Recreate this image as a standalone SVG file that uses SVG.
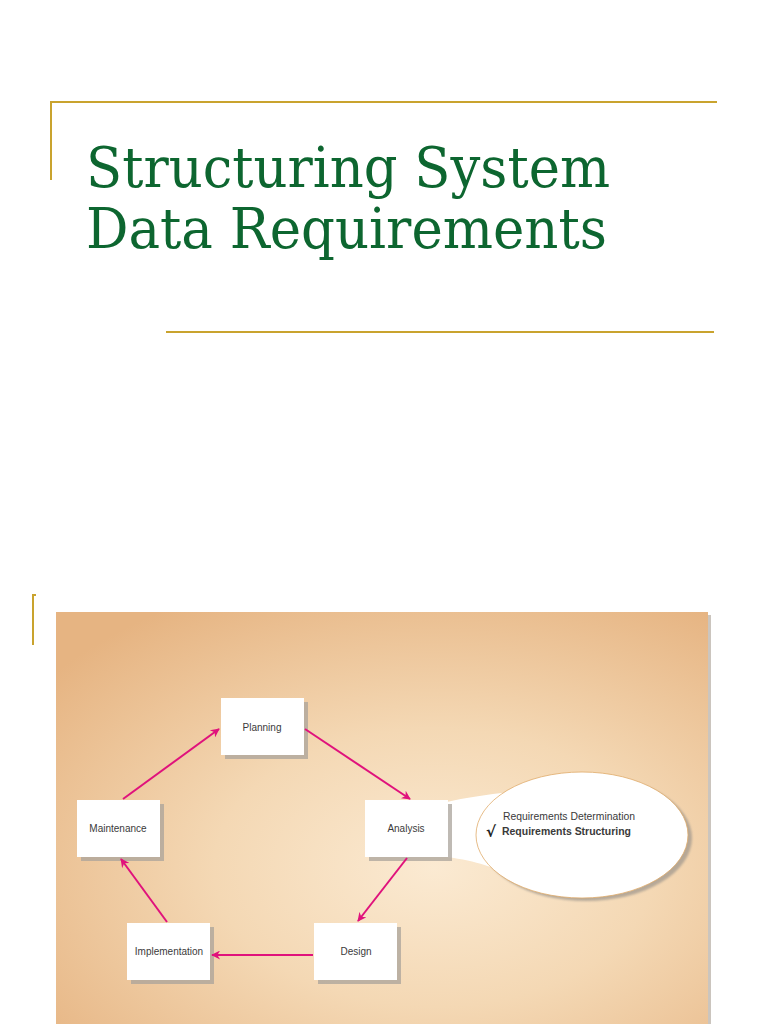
<svg xmlns="http://www.w3.org/2000/svg" width="768" height="1024" viewBox="0 0 768 1024">
<defs>
<style>
.frame{stroke:#c9a32e;stroke-width:2;fill:none}
.title{font-family:"DejaVu Serif","Liberation Serif",serif;font-size:56px;fill:#0d6630}
.box{fill:#ffffff}
.shadow{fill:#a9a39b;opacity:0.75}
.lbl{font-family:"Liberation Sans",Arial,sans-serif;font-size:10px;fill:#3a3a3a;text-anchor:middle}
.edge{stroke:#e0127c;stroke-width:2;fill:none;marker-end:url(#ah)}
.note{font-family:"Liberation Sans",Arial,sans-serif;font-size:10.5px;fill:#3a3a3a}
</style>
<marker id="ah" viewBox="0 0 10 10" refX="9" refY="5" markerWidth="10" markerHeight="9" orient="auto" markerUnits="userSpaceOnUse">
<path d="M0,0 L10,5 L0,10 L3,5 z" fill="#e0127c"/>
</marker>
<radialGradient id="bg" cx="0.58" cy="0.62" r="0.75">
<stop offset="0" stop-color="#fbead2"/>
<stop offset="0.45" stop-color="#f4d8b4"/>
<stop offset="1" stop-color="#e6b482"/>
</radialGradient>
<filter id="blur" x="-10%" y="-10%" width="130%" height="130%"><feGaussianBlur stdDeviation="1.2"/></filter>
</defs>
<rect width="768" height="1024" fill="#ffffff"/>
<g id="frame">
<path class="frame" d="M51,180 V102 H717"/>
<path class="frame" d="M166,332 H714"/>
<path class="frame" d="M33,645 V595 H36"/>
</g>
<g id="title">
<text class="title" x="86" y="187" textLength="524" lengthAdjust="spacingAndGlyphs">Structuring System</text>
<text class="title" x="86" y="248" textLength="521" lengthAdjust="spacingAndGlyphs">Data Requirements</text>
</g>
<g id="picture">
<rect x="59" y="615" width="652" height="409" fill="#b5aca2" opacity="0.7"/>
<rect x="56" y="612" width="652" height="412" fill="url(#bg)"/>
</g>
<g id="callout">
<ellipse cx="586" cy="838" rx="106" ry="63" fill="#9d958c" opacity="0.7" filter="url(#blur)"/>
<path d="M447,802 C465,798 490,794 514,792 L520,882 C505,872 485,862 447,857 Z" fill="#ffffff"/>
<ellipse cx="582" cy="835" rx="106" ry="63" fill="#ffffff" stroke="#e0ab6a" stroke-width="0.8"/>
<text class="note" x="503" y="820" textLength="132" lengthAdjust="spacingAndGlyphs">Requirements Determination</text>
<text x="486" y="837" font-family="DejaVu Sans,sans-serif" font-size="15" font-weight="bold" fill="#222">√</text>
<text class="note" x="502" y="835" font-weight="bold" fill="#222" textLength="129" lengthAdjust="spacingAndGlyphs">Requirements Structuring</text>
</g>
<g id="node-planning">
<rect class="shadow" x="225" y="702" width="83" height="57"/>
<rect class="box" x="221" y="698" width="83" height="57"/>
<text class="lbl" x="262" y="731">Planning</text>
</g>
<g id="node-maintenance">
<rect class="shadow" x="81" y="804" width="83" height="57"/>
<rect class="box" x="77" y="800" width="83" height="57"/>
<text class="lbl" x="118" y="832">Maintenance</text>
</g>
<g id="node-analysis">
<rect class="shadow" x="369" y="804" width="83" height="57"/>
<rect class="box" x="365" y="800" width="83" height="57"/>
<text class="lbl" x="406" y="832">Analysis</text>
</g>
<g id="node-implementation">
<rect class="shadow" x="131" y="927" width="83" height="57"/>
<rect class="box" x="127" y="923" width="83" height="57"/>
<text class="lbl" x="169" y="955">Implementation</text>
</g>
<g id="node-design">
<rect class="shadow" x="318" y="927" width="83" height="57"/>
<rect class="box" x="314" y="923" width="83" height="57"/>
<text class="lbl" x="356" y="955">Design</text>
</g>
<g id="connectors">
<path class="edge" d="M123,799 L219,729"/>
<path class="edge" d="M305,729 L410,799"/>
<path class="edge" d="M407,858 L358,921"/>
<path class="edge" d="M313,955 L212,955"/>
<path class="edge" d="M167,922 L121,859"/>
</g>
</svg>
